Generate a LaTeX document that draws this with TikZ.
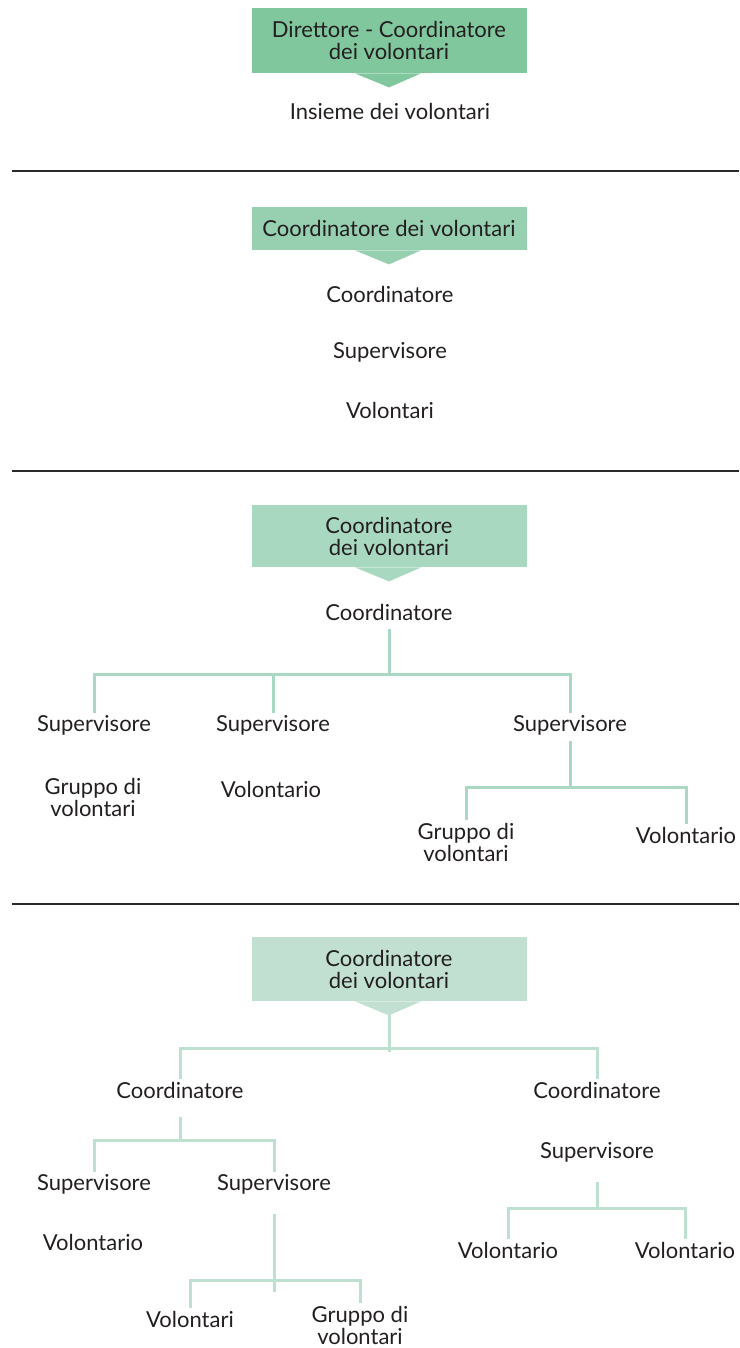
\documentclass[tikz,border=0pt]{standalone}
\usepackage{fontspec}
\setmainfont{Lato}

\definecolor{boxa}{HTML}{81C79D}
\definecolor{boxb}{HTML}{97CFB1}
\definecolor{boxc}{HTML}{A9D8C1}
\definecolor{boxd}{HTML}{C1E0D1}
\definecolor{linkc}{HTML}{A9D9C2}
\definecolor{linkd}{HTML}{BDE0D0}
\definecolor{ink}{HTML}{231F20}
\definecolor{rule}{HTML}{2A2A2A}

\tikzset{
  role/.style={text=ink, font=\fontsize{11}{11}\selectfont, align=center, inner sep=1pt},
  header/.style={role, fill=#1, minimum width=137.5pt, inner sep=0pt},
  branch/.style={draw=#1, line width=1.5pt},
  branch/.default=linkc,
  sep/.style={draw=rule, line width=1.4pt}
}

\begin{document}
\begin{tikzpicture}[x=0.5pt, y=-0.5pt]
  \useasboundingbox (0,0) rectangle (739,1348);

  \node [header=boxa, minimum height=32.5pt] (head-1) at (389,40.5) {Direttore - Coordinatore\\dei volontari};
  \node [header=boxb, minimum height=21.5pt] (head-2) at (389,228.5) {Coordinatore dei volontari};
  \node [header=boxc, minimum height=31pt] (head-3) at (389,536) {Coordinatore\\dei volontari};
  \node [header=boxd, minimum height=32pt] (head-4) at (389,969) {Coordinatore\\dei volontari};
  \foreach \h/\c in {1/boxa, 2/boxb, 3/boxc, 4/boxd}
    \fill [\c] ([xshift=-17pt]head-\h.south) -- ([xshift=16pt]head-\h.south)
      -- ([yshift=-7pt]head-\h.south) -- cycle;

  \foreach \y in {171, 471, 904}
    \draw [sep] (12,\y) -- (739,\y);

  % first
  \node [role] (all-1) at (390,111) {Insieme dei volontari};

  % second
  \foreach \t [count=\i] in {Coordinatore, Supervisore, Volontari}
    \node [role] (chain-\i) at (390, 236+58*\i) {\t};

  % third
  \node [role] (coord-3) at (389,612) {Coordinatore};
  \foreach \x/\n in {94/1, 273/2, 570/3}
    \node [role] (sup-3-\n) at (\x,725) {Supervisore};
  \node [role] (group-3-1) at (93,797) {Gruppo di\\volontari};
  \node [role] (vol-3-2) at (271,789) {Volontario};
  \node [role] (group-3-3) at (466,842) {Gruppo di\\volontari};
  \node [role] (vol-3-3) at (686,835) {Volontario};
  \coordinate (fork-3) at (389,674);
  \coordinate (fork-3-3) at (570,787);
  \draw [branch] ([yshift=-3pt]coord-3.south) -- (fork-3);
  \draw [branch] (sup-3-1.north) |- (fork-3) -| (sup-3-3.north);
  \draw [branch] (sup-3-2.north) -- (sup-3-2.north |- fork-3);
  \draw [branch] ([yshift=-2pt]sup-3-3.south) -- (fork-3-3);
  \draw [branch] (group-3-3.north) |- (fork-3-3) -| (vol-3-3.north);

  % fourth
  \node [role] (coord-4-1) at (180,1090) {Coordinatore};
  \node [role] (coord-4-2) at (597,1090) {Coordinatore};
  \node [role] (sup-4-1) at (94,1184) {Supervisore};
  \node [role] (sup-4-2) at (274,1184) {Supervisore};
  \node [role] (vol-4-1) at (93,1242) {Volontario};
  \node [role] (sup-4-3) at (597,1152) {Supervisore};
  \node [role] (vols-4-2) at (190,1319) {Volontari};
  \node [role] (group-4-2) at (360,1325) {Gruppo di\\volontari};
  \node [role] (vol-4-3) at (508,1250) {Volontario};
  \node [role] (vol-4-4) at (685,1250) {Volontario};
  \coordinate (fork-4) at (389,1048);
  \coordinate (fork-4-1) at (180,1140);
  \coordinate (fork-4-2) at (274,1280);
  \coordinate (fork-4-3) at (597,1208);
  \draw [branch=linkd] ([yshift=-7pt]head-4.south) -- ([yshift=-2pt]fork-4);
  \draw [branch=linkd] (coord-4-1.north) |- (fork-4) -| (coord-4-2.north);
  \draw [branch=linkd] ([yshift=-8pt]coord-4-1.south) -- (fork-4-1);
  \draw [branch=linkd] (sup-4-1.north) |- (fork-4-1) -| (sup-4-2.north);
  \draw [branch=linkd] ([yshift=-9pt]sup-4-2.south) -- ([yshift=-6pt]fork-4-2);
  \draw [branch=linkd] (vols-4-2.north) |- (fork-4-2) -| (group-4-2.north);
  \draw [branch=linkd] ([yshift=-9pt]sup-4-3.south) -- (fork-4-3);
  \draw [branch=linkd] (vol-4-3.north) |- (fork-4-3) -| (vol-4-4.north);
\end{tikzpicture}
\end{document}
